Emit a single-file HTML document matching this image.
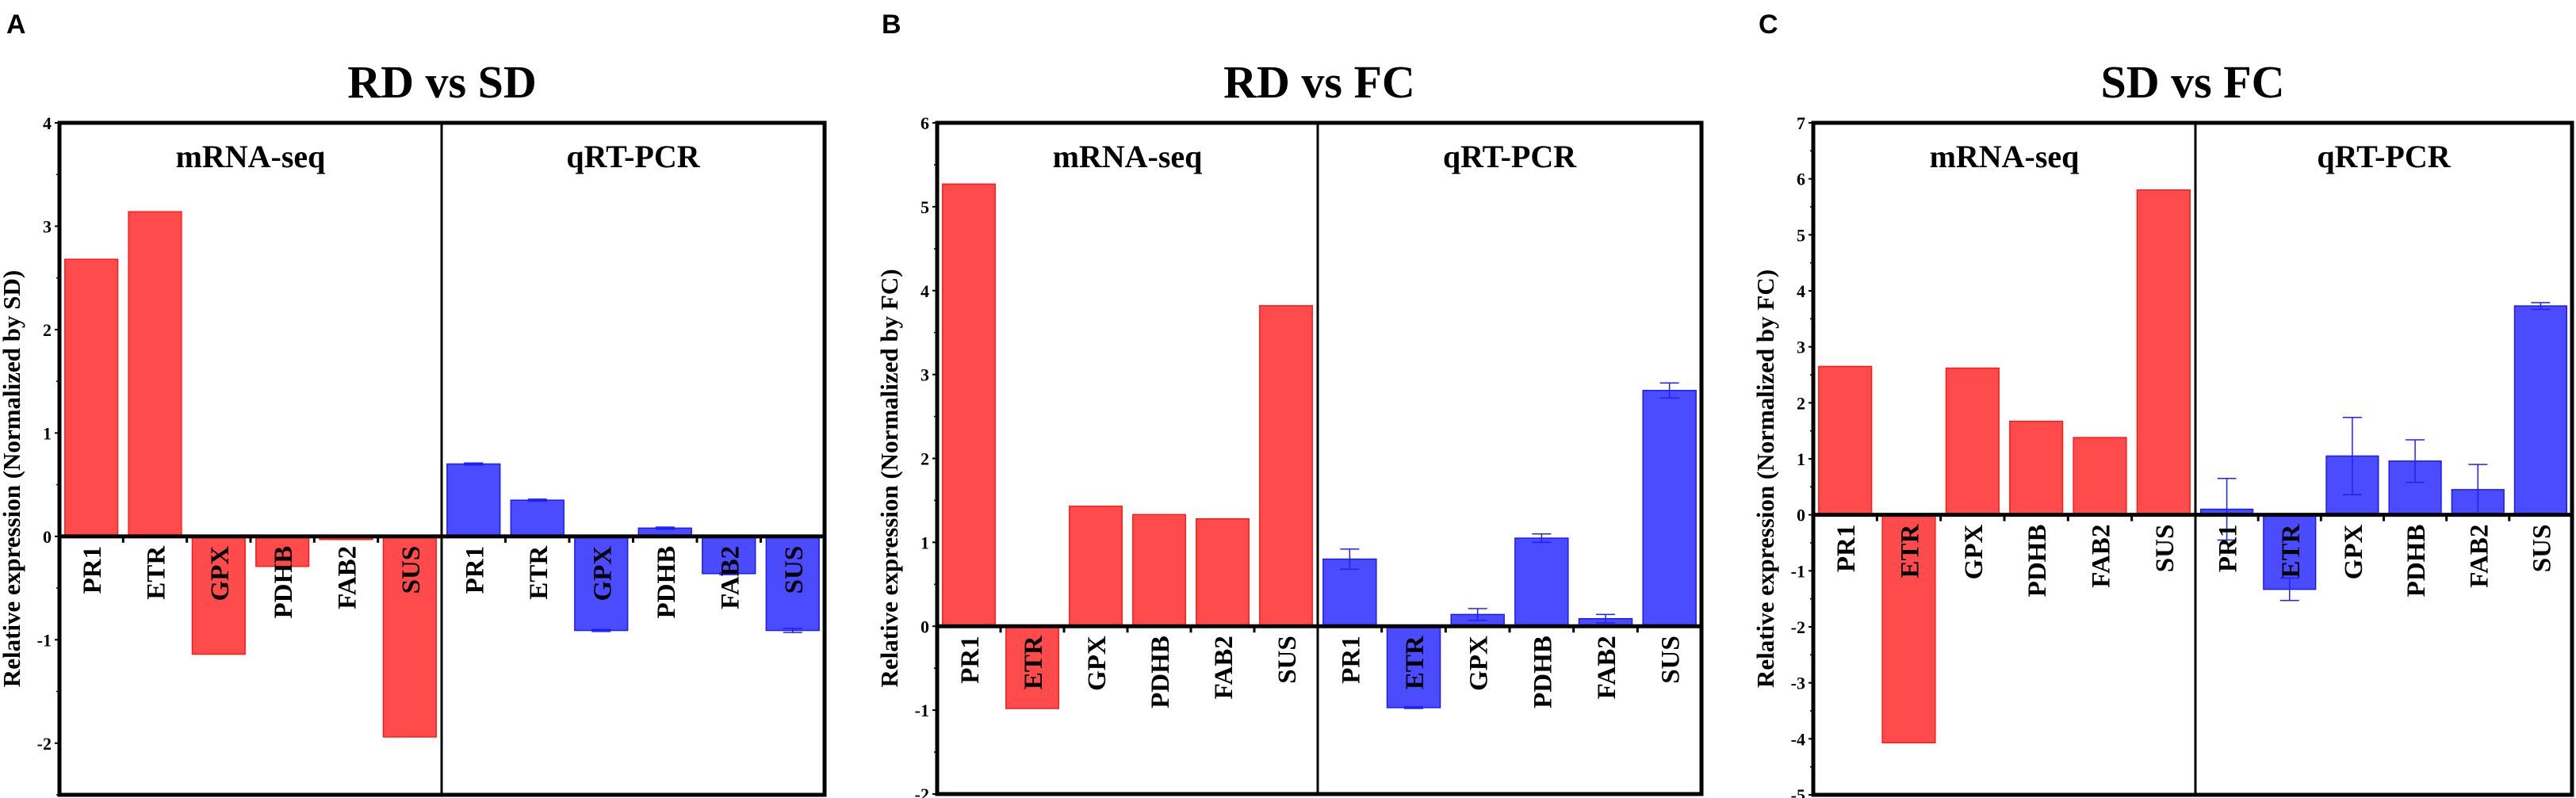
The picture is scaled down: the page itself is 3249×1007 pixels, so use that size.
<!DOCTYPE html>
<html><head><meta charset="utf-8">
<style>
html,body{margin:0;padding:0;background:#fff;}
svg{display:block;}
text{font-family:"Liberation Serif",serif;font-weight:bold;fill:#000;}
.plet{font-family:"Liberation Sans",sans-serif;}
</style></head>
<body>
<svg id="fig" width="3249" height="1007" viewBox="0 0 3249 1007" xmlns="http://www.w3.org/2000/svg"></svg>
<script>
const genes = ["PR1","ETR","GPX","PDHB","FAB2","SUS"];
const aSeq = [2.68, 3.14, -1.14, -0.29, -0.03, -1.94];
const aPcr = [0.70, 0.35, -0.91, 0.08, -0.36, -0.91];
const aErr = [0.01, 0.01, 0.01, 0.01, 0.01, 0.02];
const bSeq = [5.27, -0.98, 1.43, 1.33, 1.28, 3.82];
const bPcr = [0.80, -0.97, 0.14, 1.05, 0.09, 2.81];
const bErr = [0.12, 0.01, 0.07, 0.05, 0.05, 0.09];
const cSeq = [2.65, -4.07, 2.62, 1.67, 1.38, 5.80];
const cPcr = [0.10, -1.33, 1.05, 0.96, 0.45, 3.73];
const cErr = [0.55, 0.20, 0.69, 0.38, 0.45, 0.06];
const aTicks = [4,3,2,1,0,-1,-2];
const bTicks = [6,5,4,3,2,1,0,-1,-2];
const cTicks = [7,6,5,4,3,2,1,0,-1,-2,-3,-4,-5];

const NS="http://www.w3.org/2000/svg";
const svg=document.getElementById('fig');
function mk(tag,attrs,parent){const e=document.createElementNS(NS,tag);for(const k in attrs)e.setAttribute(k,attrs[k]);(parent||svg).appendChild(e);return e;}

function panel(cfg){
  const g=mk('g',{});
  
  
  const L=cfg.left,R=cfg.right,T=155,B=cfg.bottom;
  const y=v=>T+(cfg.ymax-v)*(B-T)/(cfg.ymax-cfg.ymin);
  const y0=y(0), mid=cfg.mid;
  const lt=mk('text',{x:cfg.letterX,y:42,'font-size':34,class:'plet'},g);lt.textContent=cfg.letter;
  
  
  const tt=mk('text',{x:(L+R)/2,y:123,'font-size':58,'text-anchor':'middle'},g);tt.textContent=cfg.title;
  
  
  const yl=mk('text',{x:0,y:0,'font-size':31,'text-anchor':'middle',transform:`translate(${L-50},${(T+B)/2+25}) rotate(-90)`},g);yl.textContent=cfg.ylabel;
  
  
  cfg.ticks.forEach(t=>{
    const yy=y(t);
    const tl=mk('text',{x:L-10,y:yy+8,'font-size':22,'text-anchor':'end'},g);tl.textContent=t;
    
    
    mk('line',{x1:L-6,x2:L,y1:yy,y2:yy,stroke:'#000','stroke-width':2},g);
    const ym=y(t-0.5); if(t>cfg.ymin) mk('line',{x1:L-4,x2:L,y1:ym,y2:ym,stroke:'#000','stroke-width':1.5},g);
  });
  const halves=[{x0:L,x1:mid,vals:cfg.seq,err:null,fill:'#ff4b4b',edge:'#ff1a1a',lab:'mRNA-seq'},
                {x0:mid,x1:R,vals:cfg.pcr,err:cfg.err,fill:'#4b4bff',edge:'#1a1aff',lab:'qRT-PCR'}];
  halves.forEach((h,hi)=>{
    const slot=(h.x1-h.x0)/6, bw=slot*0.83;
    const hl=mk('text',{x:(h.x0+h.x1)/2,y:T+56,'font-size':40,'text-anchor':'middle'},g);hl.textContent=h.lab;
    
    
    h.vals.forEach((v,i)=>{
      const cx=h.x0+slot*(i+0.5);
      const r=mk('rect',{x:cx-bw/2,y:Math.min(y(v),y0),width:bw,height:Math.abs(y(v)-y0),fill:h.fill,stroke:h.edge,'stroke-width':1.5},g);
      
      
      if(h.err){
        const e=h.err[i], ya=y(v+e), yb=y(v-e);
        mk('line',{x1:cx,x2:cx,y1:ya,y2:yb,stroke:'#2020ff','stroke-width':1.5},g);
        mk('line',{x1:cx-12,x2:cx+12,y1:ya,y2:ya,stroke:'#2020ff','stroke-width':1.5},g);
        mk('line',{x1:cx-12,x2:cx+12,y1:yb,y2:yb,stroke:'#2020ff','stroke-width':1.5},g);
      }
      const gl=mk('text',{x:0,y:0,'font-size':33,'text-anchor':'end',transform:`translate(${cx+12},${y0+12}) rotate(-90)`},g);gl.textContent=genes[i];
      
      
      if(i>0) mk('line',{x1:h.x0+slot*i,x2:h.x0+slot*i,y1:y0,y2:y0+8,stroke:'#000','stroke-width':3},g);
    });
  });
  mk('line',{x1:L,x2:R,y1:y0,y2:y0,stroke:'#000','stroke-width':5},g);
  mk('line',{x1:mid,x2:mid,y1:T,y2:B,stroke:'#000','stroke-width':3},g);
  mk('rect',{x:L,y:T,width:R-L,height:B-T,fill:'none',stroke:'#000','stroke-width':5},g);
}
panel({letter:'A',letterX:8,title:'RD vs SD',ylabel:'Relative expression (Normalized by SD)',left:75,mid:557,right:1040,bottom:1003,ymax:4,ymin:-2.5,ticks:aTicks,seq:aSeq,pcr:aPcr,err:aErr});
panel({letter:'B',letterX:1112,title:'RD vs FC',ylabel:'Relative expression (Normalized by FC)',left:1182,mid:1662,right:2146,bottom:1002,ymax:6,ymin:-2,ticks:bTicks,seq:bSeq,pcr:bPcr,err:bErr});
panel({letter:'C',letterX:2218,title:'SD vs FC',ylabel:'Relative expression (Normalized by FC)',left:2287,mid:2769,right:3244,bottom:1003,ymax:7,ymin:-5,ticks:cTicks,seq:cSeq,pcr:cPcr,err:cErr});
</script>
</body></html>
